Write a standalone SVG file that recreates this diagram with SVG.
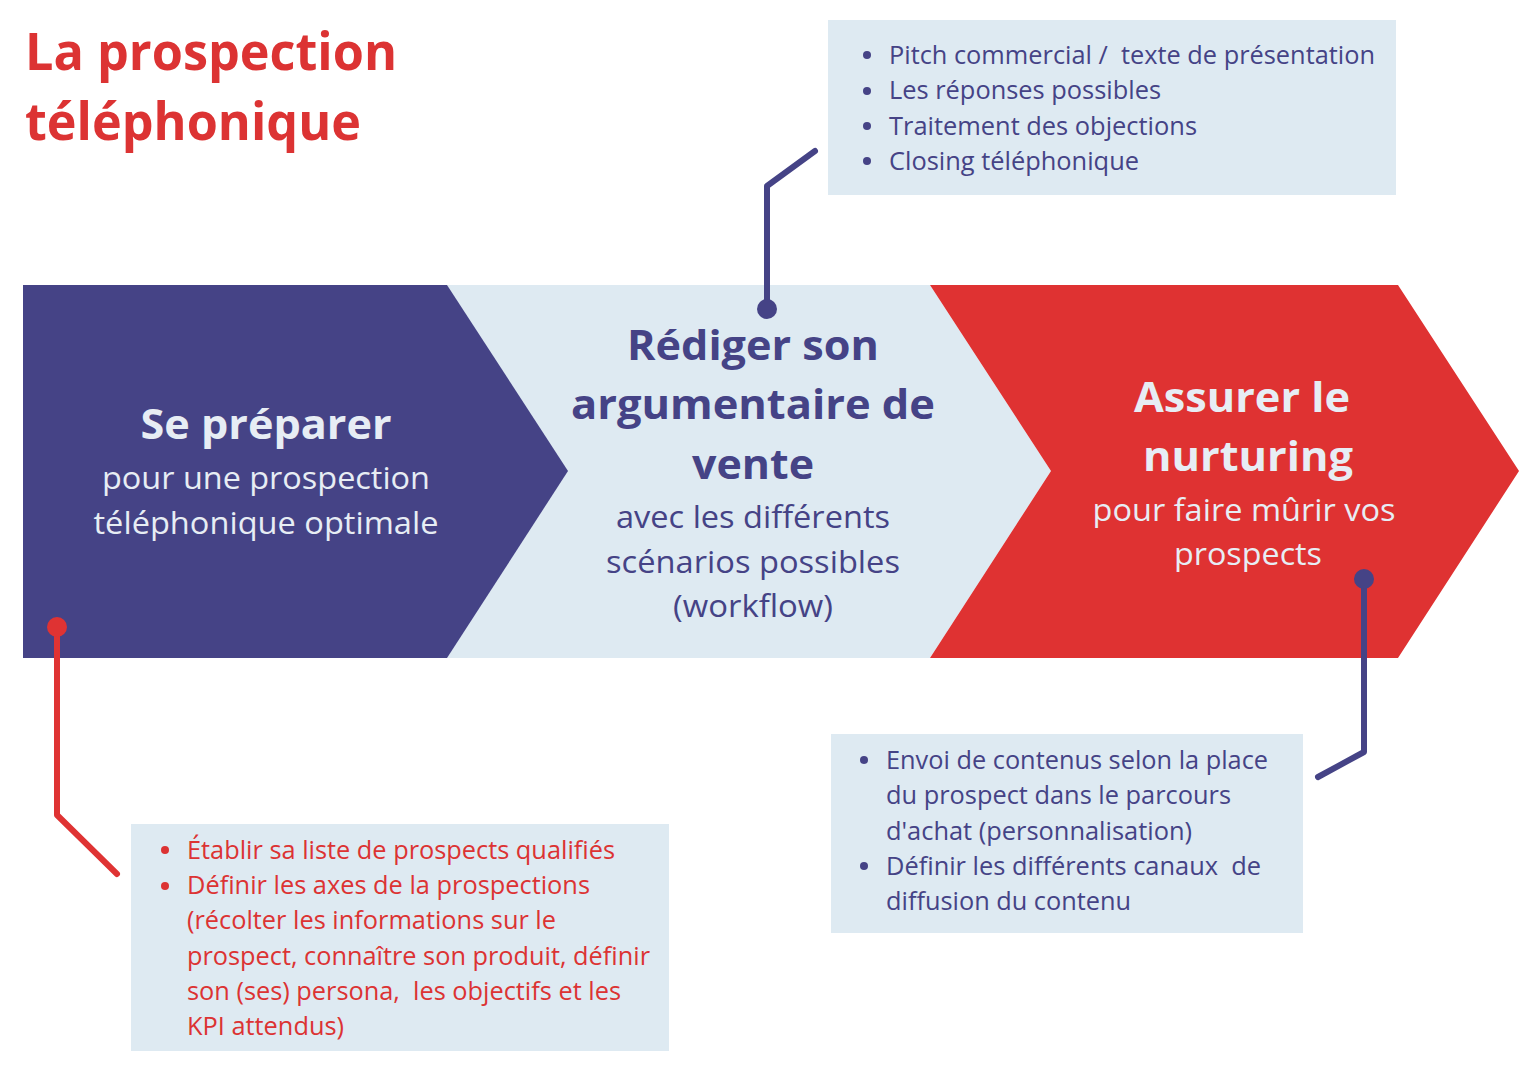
<svg xmlns="http://www.w3.org/2000/svg" width="1528" height="1080" viewBox="0 0 1528 1080">
<style>
text{font-family:"Open Sans","Noto Sans","Liberation Sans",sans-serif;white-space:pre}
.title{font-size:52px;font-weight:700;fill:#dc3333}
.hd{font-size:41px;font-weight:700;text-anchor:middle}
.sub{font-size:31px;font-weight:400;text-anchor:middle}
.li{font-size:25px}
.light{fill:#e7edf4}
.purple{fill:#454386}
.red{fill:#dc3333}
.box{fill:#deeaf2}
.conn-p{stroke:#454386;stroke-width:6;fill:none;stroke-linejoin:round;stroke-linecap:round}
.conn-r{stroke:#df3333;stroke-width:6;fill:none;stroke-linejoin:round;stroke-linecap:round}
</style>
<rect width="1528" height="1080" fill="#ffffff"/>
<g id="title">
<text class="title" x="25" y="70" textLength="372" lengthAdjust="spacingAndGlyphs">La prospection</text>
<text class="title" x="25" y="140" textLength="336" lengthAdjust="spacingAndGlyphs">téléphonique</text>
</g>
<g id="step2">
<polygon points="447,285 930,285 1051,471 930,658 447,658" fill="#deeaf2"/>
<text class="hd purple" x="753" y="360" textLength="252" lengthAdjust="spacingAndGlyphs">Rédiger son</text>
<text class="hd purple" x="753" y="419" textLength="364" lengthAdjust="spacingAndGlyphs">argumentaire de</text>
<text class="hd purple" x="753" y="479" textLength="122" lengthAdjust="spacingAndGlyphs">vente</text>
<text class="sub purple" x="753" y="528" textLength="274" lengthAdjust="spacingAndGlyphs">avec les différents</text>
<text class="sub purple" x="753" y="573" textLength="294" lengthAdjust="spacingAndGlyphs">scénarios possibles</text>
<text class="sub purple" x="753" y="617" textLength="160" lengthAdjust="spacingAndGlyphs">(workflow)</text>
</g>
<g id="step1">
<polygon points="23,285 447,285 568,471 447,658 23,658" fill="#454386"/>
<text class="hd light" x="266" y="439" textLength="251" lengthAdjust="spacingAndGlyphs">Se préparer</text>
<text class="sub light" x="266" y="489" textLength="328" lengthAdjust="spacingAndGlyphs">pour une prospection</text>
<text class="sub light" x="266" y="534" textLength="345" lengthAdjust="spacingAndGlyphs">téléphonique optimale</text>
</g>
<g id="step3">
<polygon points="930,285 1398,285 1519,471 1398,658 930,658 1051,471" fill="#df3232"/>
<text class="hd light" x="1242" y="412" textLength="216" lengthAdjust="spacingAndGlyphs">Assurer le</text>
<text class="hd light" x="1248" y="471" textLength="210" lengthAdjust="spacingAndGlyphs">nurturing</text>
<text class="sub light" x="1244" y="521" textLength="303" lengthAdjust="spacingAndGlyphs">pour faire mûrir vos</text>
<text class="sub light" x="1248" y="565" textLength="148" lengthAdjust="spacingAndGlyphs">prospects</text>
</g>
<g id="note-top">
<rect class="box" x="828" y="20" width="568" height="175"/>
<circle class="purple" cx="867" cy="55" r="4"/>
<circle class="purple" cx="867" cy="91" r="4"/>
<circle class="purple" cx="867" cy="126" r="4"/>
<circle class="purple" cx="867" cy="161" r="4"/>
<text class="li purple" x="889" y="64" textLength="486" lengthAdjust="spacingAndGlyphs">Pitch commercial /  texte de présentation</text>
<text class="li purple" x="889" y="99" textLength="272" lengthAdjust="spacingAndGlyphs">Les réponses possibles</text>
<text class="li purple" x="889" y="135" textLength="308" lengthAdjust="spacingAndGlyphs">Traitement des objections</text>
<text class="li purple" x="889" y="170" textLength="250" lengthAdjust="spacingAndGlyphs">Closing téléphonique</text>
</g>
<g id="note-left">
<rect class="box" x="131" y="824" width="538" height="227"/>
<circle class="red" cx="165" cy="850" r="4"/>
<circle class="red" cx="165" cy="886" r="4"/>
<text class="li red" x="187" y="859" textLength="428" lengthAdjust="spacingAndGlyphs">Établir sa liste de prospects qualifiés</text>
<text class="li red" x="187" y="894" textLength="403" lengthAdjust="spacingAndGlyphs">Définir les axes de la prospections</text>
<text class="li red" x="187" y="929" textLength="369" lengthAdjust="spacingAndGlyphs">(récolter les informations sur le</text>
<text class="li red" x="187" y="965" textLength="463" lengthAdjust="spacingAndGlyphs">prospect, connaître son produit, définir</text>
<text class="li red" x="187" y="1000" textLength="434" lengthAdjust="spacingAndGlyphs">son (ses) persona,  les objectifs et les</text>
<text class="li red" x="187" y="1035" textLength="157" lengthAdjust="spacingAndGlyphs">KPI attendus)</text>
</g>
<g id="note-right">
<rect class="box" x="831" y="734" width="472" height="199"/>
<circle class="purple" cx="864" cy="760" r="4"/>
<circle class="purple" cx="864" cy="866" r="4"/>
<text class="li purple" x="886" y="769" textLength="382" lengthAdjust="spacingAndGlyphs">Envoi de contenus selon la place</text>
<text class="li purple" x="886" y="804" textLength="345" lengthAdjust="spacingAndGlyphs">du prospect dans le parcours</text>
<text class="li purple" x="886" y="840" textLength="306" lengthAdjust="spacingAndGlyphs">d'achat (personnalisation)</text>
<text class="li purple" x="886" y="875" textLength="375" lengthAdjust="spacingAndGlyphs">Définir les différents canaux  de</text>
<text class="li purple" x="886" y="910" textLength="245" lengthAdjust="spacingAndGlyphs">diffusion du contenu</text>
</g>
<g id="connectors">
<polyline class="conn-p" points="767,309 767,186 815,151"/>
<circle class="purple" cx="767" cy="309" r="10"/>
<polyline class="conn-r" points="57,627 57,815 117,874"/>
<circle cx="57" cy="627" r="10" fill="#df3333"/>
<polyline class="conn-p" points="1364,579 1364,752 1318,777"/>
<circle class="purple" cx="1364" cy="579" r="10"/>
</g>
</svg>
